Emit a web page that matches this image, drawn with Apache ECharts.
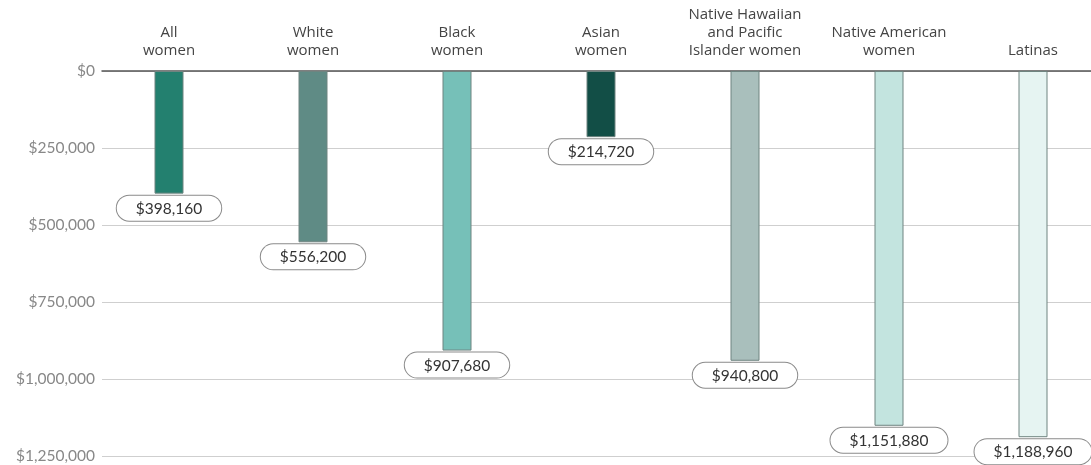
<!DOCTYPE html>
<html>
<head>
<meta charset="utf-8">
<script src="https://cdn.jsdelivr.net/npm/echarts@6/dist/echarts.min.js"></script>
<style>
html,body{margin:0;padding:0;background:#fff;overflow:hidden;width:1091px;height:465px;}
#chart{width:1110px;height:465px;}
</style>
</head>
<body>
<div id="chart"></div>
<script>
const categories = ["All\nwomen", "White\nwomen", "Black\nwomen", "Asian\nwomen", "Native Hawaiian\nand Pacific\nIslander women", "Native American\nwomen", "Latinas"];
const values = [398160, 556200, 907680, 214720, 940800, 1151880, 1188960];
const barColors = ["#23806f", "#5f8b85", "#76c0b8", "#124e46", "#a9bfbc", "#c3e4df", "#e6f4f2"];
const yTicks = [0, 250000, 500000, 750000, 1000000, 1250000];

const fmt = v => '$' + v.toLocaleString('en-US');
const yMin = yTicks[0], yMax = yTicks[yTicks.length - 1];
const chart = echarts.init(document.getElementById('chart'));
chart.setOption({
  animation: false,
  textStyle: { fontFamily: 'Lato' },
  grid: [
    { left: 102, right: 19, top: 71, height: 385, containLabel: false },
    { left: 97, width: 1008, top: 71, height: 385, containLabel: false }
  ],
  xAxis: [
    {
      gridIndex: 0, type: 'value', position: 'top', min: 0, max: 1,
      axisLine: { show: true, lineStyle: { color: '#555', width: 1.5 } },
      axisTick: { show: false }, axisLabel: { show: false }, splitLine: { show: false }
    },
    {
      gridIndex: 1, type: 'category', position: 'top', data: categories,
      axisLine: { show: false }, axisTick: { show: false },
      axisLabel: { color: '#444', fontSize: 15, lineHeight: 18, margin: 11, interval: 0, fontFamily: 'Open Sans' }
    }
  ],
  yAxis: [
    {
      gridIndex: 0, type: 'value', inverse: true, min: yMin, max: yMax, interval: 250000,
      axisLine: { show: false }, axisTick: { show: false },
      splitLine: { lineStyle: { color: '#cfcfcf', width: 1.2 } },
      axisLabel: { color: '#888', fontSize: 15.5, margin: 7, formatter: v => fmt(v), fontFamily: 'Lato' }
    },
    {
      gridIndex: 1, type: 'value', inverse: true, min: yMin, max: yMax, interval: 250000,
      show: false
    }
  ],
  series: [{
    type: 'bar',
    xAxisIndex: 1, yAxisIndex: 1,
    barWidth: 29,
    data: values.map((v, i) => ({ value: v, itemStyle: { color: barColors[i] } })),
    itemStyle: { borderColor: '#6f8480', borderWidth: 1 },
    label: {
      show: true,
      position: 'bottom',
      distance: 2,
      formatter: p => fmt(p.value),
      color: '#333',
      fontSize: 15.5,
      fontFamily: 'Lato',
      backgroundColor: '#fff',
      borderColor: '#8a8a8a',
      borderWidth: 1,
      borderRadius: 13,
      padding: [5, 19, 4, 19]
    }
  }]
});
</script>
</body>
</html>
